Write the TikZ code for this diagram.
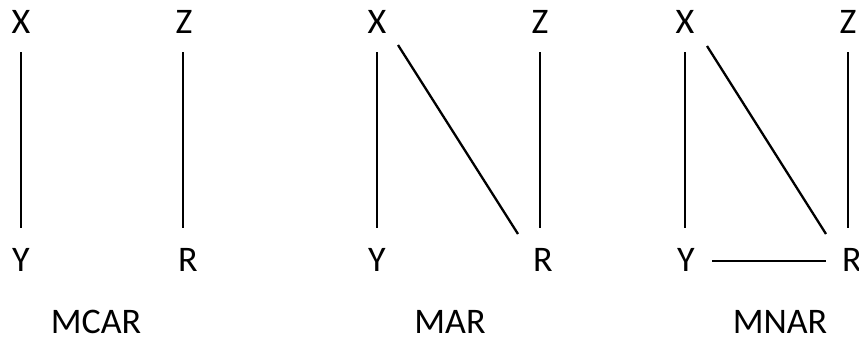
\documentclass[tikz,border=0pt]{standalone}
\usepackage{fontspec}
\setmainfont{Carlito}
\usetikzlibrary{calc}
\begin{document}
\begin{tikzpicture}[x=1pt,y=-1pt,
  lab/.style={inner sep=0pt,outer sep=0pt,anchor=base,text height=23pt,text depth=0pt,font=\fontsize{36}{40}\selectfont},
  edge/.style={line width=2.3pt,black}]
\useasboundingbox (0,0) rectangle (859,343);
% panel 1
\node[lab] (X1) at (21,33) {X};
\node[lab] (Z1) at (184,33) {Z};
\node[lab] (Y1) at (21,271) {Y};
\node[lab] (R1) at (188,271) {R};
\node[lab] (T1) at (96,333) {MCAR};
\draw[edge] ($(X1.base)+(0,19)$) -- ($(X1.base |- Y1.base)+(0,-43)$);
\draw[edge] ($(Z1.base)+(-1,19)$) -- ($(Z1.base |- R1.base)+(-1,-43)$);
% panel 2
\node[lab] (X2) at (377,33) {X};
\node[lab] (Z2) at (540,33) {Z};
\node[lab] (Y2) at (377,271) {Y};
\node[lab] (R2) at (543,271) {R};
\node[lab] (T2) at (450,333) {MAR};
\draw[edge] ($(X2.base)+(0,19)$) -- ($(X2.base |- Y2.base)+(0,-43)$);
\draw[edge] ($(Z2.base)+(0,19)$) -- ($(Z2.base |- R2.base)+(0,-43)$);
\draw[edge] ($(X2.base)+(21,12)$) -- ($(R2.base)+(-25,-37)$);
% panel 3
\node[lab] (X3) at (685,33) {X};
\node[lab] (Z3) at (848,33) {Z};
\node[lab] (Y3) at (686,271) {Y};
\node[lab] (R3) at (852,271) {R};
\node[lab] (T3) at (780,333) {MNAR};
\draw[edge] ($(X3.base)+(0,19)$) -- ($(X3.base |- Y3.base)+(0,-43)$);
\draw[edge] ($(Z3.base)+(0,19)$) -- ($(Z3.base |- R3.base)+(0,-43)$);
\draw[edge] ($(X3.base)+(22,13)$) -- ($(R3.base)+(-26,-37)$);
\draw[edge] ($(Y3.base)+(26,-10)$) -- ($(R3.base)+(-26,-10)$);
\end{tikzpicture}
\end{document}
